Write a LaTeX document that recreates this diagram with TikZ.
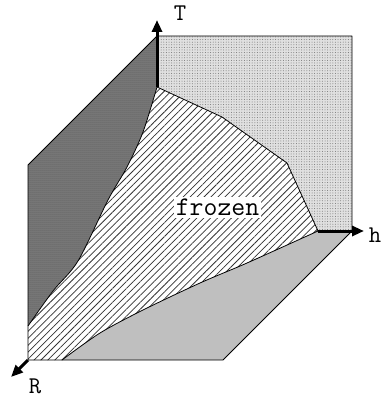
\documentclass[tikz,border=0pt]{standalone}
\usepackage{fontspec}
\usetikzlibrary{arrows.meta,patterns,patterns.meta}
\begin{document}
\begin{tikzpicture}[x=1pt,y=-1pt,
  edge/.style={draw=black,line width=0.8pt,line join=round},
  axis/.style={line width=3pt,-{Triangle[length=12pt,width=10pt]}},
  lbl/.style={font=\ttfamily\fontsize{24}{24}\selectfont,inner sep=0pt},
  topreg/.style={fill=black!12,postaction={pattern={Dots[distance=2.6pt,radius=0.5pt]},pattern color=black!55}},
  darkreg/.style={fill=black!52,postaction={pattern={Dots[distance=2pt,radius=0.5pt]},pattern color=black!70}},
  botreg/.style={fill=black!22,postaction={pattern={Dots[distance=2pt,radius=0.45pt]},pattern color=black!60}},
  hatchreg/.style={fill=white,postaction={pattern={Lines[angle=45,distance=4.9pt,line width=0.75pt]},pattern color=black!80}},
]
\useasboundingbox (0,0) rectangle (383,401);
\coordinate (O) at (157,87);
\coordinate (Tt) at (157,20);
\coordinate (Ho) at (318,231);
\coordinate (Ht) at (364,231);
\coordinate (Ro) at (28,360);
\coordinate (Rt) at (11,377);
% regions
\path[topreg] (157,36) -- (352,36) -- (352,231) -- (Ho) -- (287,163) -- (222,117) -- (O) -- cycle;
\path[darkreg] (157,36) -- (O) -- plot[smooth,tension=0.5] coordinates {(157,87) (143,132) (127,167) (108,200) (78,261) (53,291) (28,326)} -- (28,165) -- cycle;
\path[botreg] (62,360) -- (223,360) -- (352,231) -- (Ho) -- plot[smooth,tension=0.5] coordinates {(318,231) (247,263) (200,283) (143,310) (100,333) (62,360)} -- cycle;
\path[hatchreg] (O) -- (222,117) -- (287,163) -- (Ho) -- plot[smooth,tension=0.5] coordinates {(318,231) (247,263) (200,283) (143,310) (100,333) (62,360)} -- (Ro) -- (28,326) -- plot[smooth,tension=0.5] coordinates {(28,326) (53,291) (78,261) (108,200) (127,167) (143,132) (157,87)} -- cycle;
% boundaries
\draw[edge] (157,36) -- (352,36) -- (352,231) -- (223,360) -- (Ro) -- (28,165) -- cycle;
\draw[edge] (O) -- (222,117) -- (287,163) -- (Ho);
\draw[edge] plot[smooth,tension=0.5] coordinates {(157,87) (143,132) (127,167) (108,200) (78,261) (53,291) (28,326)};
\draw[edge] plot[smooth,tension=0.5] coordinates {(318,231) (247,263) (200,283) (143,310) (100,333) (62,360)};
% axes
\draw[axis] (O) -- (Tt);
\draw[axis] (Ho) -- (Ht);
\draw[axis] (Ro) -- (Rt);
\node[lbl] (T) at (180,13) {T};
\node[lbl] (h) at (375,235) {h};
\node[lbl] (R) at (35,386) {R};
\node[fill=white,inner sep=2pt,font=\ttfamily\fontsize{27}{27}\selectfont] (fz) at (217.5,207.5) {frozen};
\end{tikzpicture}
\end{document}
